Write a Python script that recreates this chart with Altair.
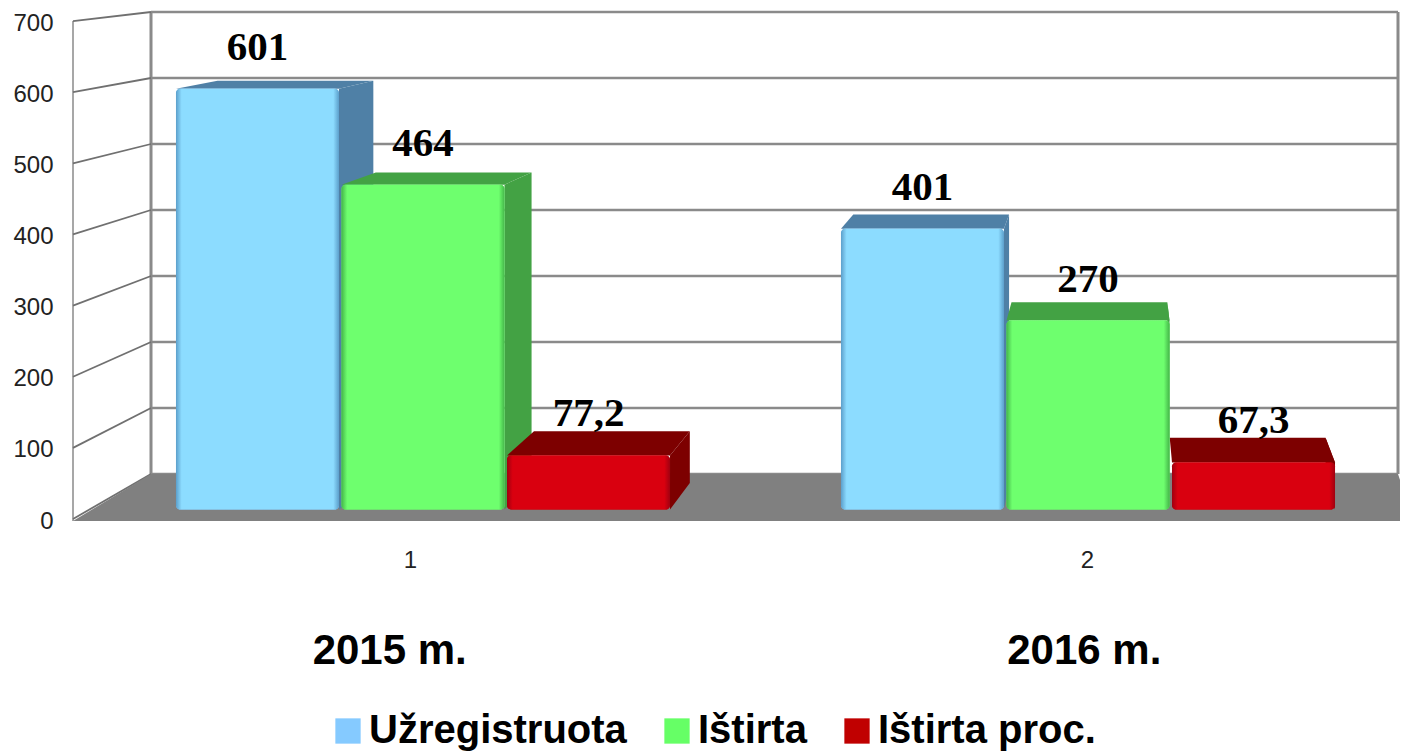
import altair as alt
import pandas as pd

# --- values
GROUPS = [1, 2]
GROUP_NAMES = ["2015 m.", "2016 m."]
SERIES = ["Užregistruota", "Ištirta", "Ištirta proc."]
VALUES_2015 = [601, 464, 77.2]
VALUES_2016 = [401, 270, 67.3]
Y_TICKS = [0, 100, 200, 300, 400, 500, 600, 700]

# --- styles
LEGEND_COLORS = ["#85CAFF", "#66FF66", "#C00000"]
FACE = ["#8CDCFF", "#6EFF6E", "#D9000F"]
EDGE = ["#5C9FCB", "#45B64A", "#A00010"]
SIDE = ["#4F80A6", "#43A244", "#7D0000"]

# --- layout of the plot (plane of the bars, front wall, back wall)
W, H = 1327, 513
PX0, PY0 = 73, 8
PX_PER_U, U1_PX = 665.0, 423.0       # bars: category 1 sits here
PX_PER_V, V0_PY = 0.70, 509.5        # bars: value 0 sits here
BAR_W, BAR_STEP = 0.2451, 0.2489
VP_PX, VP_PY, DEPTH = 1120.0, -95.0, 0.044


def to_u(px):
    return 1 + (px - U1_PX) / PX_PER_U


def to_v(py):
    return (V0_PY - py) / PX_PER_V


X_DOM = [to_u(PX0), to_u(PX0 + W)]
Y_DOM = [to_v(PY0 + H), to_v(PY0)]
xs = alt.Scale(domain=X_DOM, nice=False, zero=False)
ys = alt.Scale(domain=Y_DOM, nice=False, zero=False)


def back(u, v):
    vu, vv = to_u(VP_PX), to_v(VP_PY)
    return u + DEPTH * (vu - u), v + DEPTH * (vv - v)


rows, sides, tops = [], [], []
for g, vals in zip(GROUPS, [VALUES_2015, VALUES_2016]):
    for i, val in enumerate(vals):
        c = g + (i - 1) * BAR_STEP
        l, r = c - BAR_W / 2, c + BAR_W / 2
        bid = f"{g}-{i}"
        rows.append(dict(c=c, l=l, r=r, v=val, series=SERIES[i], i=i,
                         label=str(val).replace(".", ",")))
        bl, bv = back(l, val)
        br, _ = back(r, val)
        br0, bv0 = back(r, 0)
        sides += [dict(id=bid, fill=SIDE[i], x=r, y=val, y2=0),
                  dict(id=bid, fill=SIDE[i], x=br0, y=bv, y2=bv0)]
        tops += [dict(id=bid, fill=SIDE[i], y=val, x=l, x2=r),
                 dict(id=bid, fill=SIDE[i], y=bv, x=bl, x2=br)]
bars = pd.DataFrame(rows)

# walls
FRONT_0, FRONT_K = 519.0, 0.7114
BACK_0, BACK_K = 474.0, 0.66
WALL_L, WALL_M, WALL_R, EDGE_R = 73.0, 151.0, 1398.0, 1400.0
FLOOR_BOTTOM = 521.0


def fy(t):
    return to_v(FRONT_0 - FRONT_K * t)


def by(t):
    return to_v(BACK_0 - BACK_K * t)


back_lines = pd.DataFrame(
    [dict(t=t, x=to_u(WALL_M), x2=to_u(WALL_R), y=by(t)) for t in Y_TICKS])
slants = pd.DataFrame(
    [dict(t=t, x=to_u(WALL_L), y=fy(t)) for t in Y_TICKS]
    + [dict(t=t, x=to_u(WALL_M), y=by(t)) for t in Y_TICKS])
verticals = pd.DataFrame([
    dict(x=to_u(WALL_L), y=fy(700), y2=to_v(FLOOR_BOTTOM), w=1.5),
    dict(x=to_u(WALL_M), y=by(700), y2=by(0), w=3),
    dict(x=to_u(WALL_R), y=by(700), y2=by(0), w=3),
])
floor = pd.DataFrame([
    dict(x=to_u(WALL_L), y=to_v(FLOOR_BOTTOM), y2=to_v(FLOOR_BOTTOM)),
    dict(x=to_u(WALL_M), y=by(0), y2=to_v(FLOOR_BOTTOM)),
    dict(x=to_u(WALL_R), y=by(0), y2=to_v(FLOOR_BOTTOM)),
    dict(x=to_u(EDGE_R), y=to_v(480), y2=to_v(FLOOR_BOTTOM)),
])

X = lambda f="x": alt.X(f"{f}:Q", scale=xs, axis=None)
Y = lambda f="y": alt.Y(f"{f}:Q", scale=ys, axis=None)

layers = [
    alt.Chart(back_lines).mark_rule(color="#8a8a8a", strokeWidth=2.5).encode(
        x=X(), x2="x2:Q", y=Y()),
    alt.Chart(verticals).mark_rule(color="#8a8a8a").encode(
        x=X(), y=Y(), y2="y2:Q",
        strokeWidth=alt.StrokeWidth("w:Q", scale=None)),
    alt.Chart(slants).mark_line(color="#707070", strokeWidth=1.8).encode(
        x=X(), y=Y(), detail="t:N"),
    alt.Chart(floor).mark_area(color="#808080", orient="vertical").encode(
        x=X(), y=Y(), y2="y2:Q"),
    alt.Chart(pd.DataFrame(sides)).mark_area(orient="vertical").encode(
        x=X(), y=Y(), y2="y2:Q", detail="id:N",
        color=alt.Color("fill:N", scale=None)),
    alt.Chart(pd.DataFrame(tops)).mark_area(orient="horizontal").encode(
        y=Y(), x=X(), x2="x2:Q", detail="id:N",
        color=alt.Color("fill:N", scale=None)),
    # plain bars: they carry the legend
    alt.Chart(bars).mark_bar(cornerRadius=4).encode(
        x=X("l"), x2="r:Q", y=Y("v"), y2=alt.Y2(datum=0),
        color=alt.Color("series:N", scale=alt.Scale(domain=SERIES, range=LEGEND_COLORS),
                        legend=alt.Legend(
                            title=None, orient="none", legendX=255, legendY=703,
                            direction="horizontal", columns=3, padding=0,
                            symbolType="square", symbolSize=640, symbolStrokeWidth=0,
                            labelFont="Liberation Sans", labelFontWeight="bold",
                            labelFontSize=40, labelColor="#000000", labelLimit=0,
                            labelOffset=1, columnPadding=30, symbolOpacity=1))),
]

# bevelled front faces
for i in range(len(SERIES)):
    grad = alt.Gradient(
        gradient="linear", x1=0, x2=1, y1=0, y2=0,
        stops=[alt.GradientStop(offset=0, color=EDGE[i]),
               alt.GradientStop(offset=0.035, color=FACE[i]),
               alt.GradientStop(offset=0.965, color=FACE[i]),
               alt.GradientStop(offset=1, color=EDGE[i])])
    layers.append(
        alt.Chart(bars[bars.i == i]).mark_bar(cornerRadius=4, color=grad).encode(
            x=X("l"), x2="r:Q", y=Y("v"), y2=alt.Y2(datum=0)))

# value labels
layers.append(
    alt.Chart(bars).mark_text(
        font="Liberation Serif", fontWeight="bold", fontSize=41, color="#000000",
        dy=-41, baseline="middle", align="center").encode(
        x=X("c"), y=Y("v"), text="label:N"))

# real axes on an invisible layer: front-wall value scale, category scale
ax_x = alt.Scale(domain=[1 + (PX0 - 410) / 677, 1 + (PX0 + W - 410) / 677], nice=False, zero=False)
ax_y = alt.Scale(domain=[(FRONT_0 - (PY0 + H)) / FRONT_K, (FRONT_0 - PY0) / FRONT_K], nice=False, zero=False)
ticks = pd.DataFrame({"t": Y_TICKS, "g": [GROUPS[0]] * len(Y_TICKS)})
layers.append(
    alt.Chart(ticks).mark_point(opacity=0).encode(
        x=alt.X("g:Q", scale=ax_x, axis=alt.Axis(
            values=GROUPS, title=None, grid=False, domain=False, ticks=False, format="d",
            labelFont="Liberation Sans", labelFontSize=24, labelColor="#222222",
            labelPadding=27)),
        y=alt.Y("t:Q", scale=ax_y, axis=alt.Axis(
            values=Y_TICKS, title=None, grid=False, domain=False, ticks=False,
            labelFont="Liberation Sans", labelFontSize=24, labelColor="#222222",
            labelPadding=20, labelOffset=2, labelBound=False, labelFlush=False, labelOverlap=False))))

# group captions under the axis, placed on the category scale
captions = pd.DataFrame({"g": [0.970, 1.996], "name": GROUP_NAMES})
layers.append(
    alt.Chart(captions).mark_text(
        font="Liberation Sans", fontWeight="bold", fontSize=42, color="#000000",
        baseline="middle", align="center", dy=130).encode(
        x=alt.X("g:Q", scale=ax_x, axis=None), y=alt.value(H), text="name:N"))

chart = (
    alt.layer(*layers)
    .resolve_scale(x="independent", y="independent", color="independent")
    .resolve_axis(x="independent", y="independent")
    .properties(
        width=W, height=H,
        padding={"left": PX0 - 8, "top": PY0 - 8, "right": 0, "bottom": 231},
        autosize=alt.AutoSizeParams(type="none"),
        background="#ffffff")
    .configure_view(stroke=None)
)

chart.save("out.html", embed_options={"renderer": "svg", "actions": False})
